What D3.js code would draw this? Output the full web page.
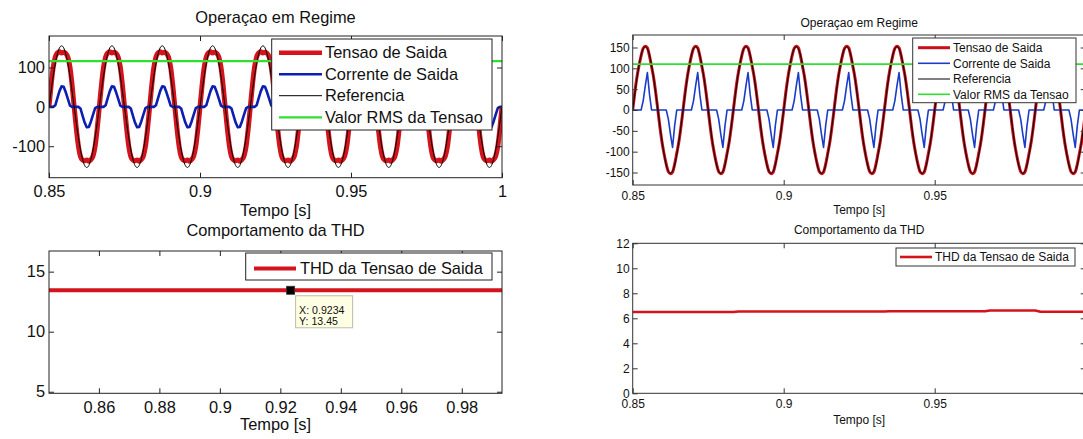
<!DOCTYPE html>
<html>
<head>
<meta charset="utf-8">
<script src="https://cdn.jsdelivr.net/npm/d3@7"></script>
<style>
  html, body { margin: 0; padding: 0; background: #fff; }
  svg { display: block; font-family: "Liberation Sans", Arial, Helvetica, sans-serif; }
</style>
</head>
<body>
<svg id="fig" width="1083" height="439"></svg>
<script>
// ---------------- data ----------------
// Waveforms are sampled every 15 electrical degrees of the 60 Hz period
// (1440 samples per second), from t = 0.85 s to t = 1.00 s.
const tStart = 0.85;
const samplesPerSecond = 1440;

// Left figure: output voltage, output current, reference, RMS voltage
const leftVoltage = [
  0, 55, 100, 127, 137, 140, 137, 139, 136, 126, 101, 56, 0, -54, -99, -126, -135, -137, -135, -138, -134, -125, -100, -55,
  0, 55, 100, 127, 137, 140, 137, 139, 136, 126, 101, 56, 0, -54, -99, -126, -135, -137, -135, -138, -134, -125, -100, -55,
  0, 55, 100, 127, 137, 140, 137, 139, 136, 126, 101, 56, 0, -54, -99, -126, -135, -137, -135, -138, -134, -125, -100, -55,
  0, 55, 100, 127, 137, 140, 137, 139, 136, 126, 101, 56, 0, -54, -99, -126, -135, -137, -135, -138, -134, -125, -100, -55,
  0, 55, 100, 127, 137, 140, 137, 139, 136, 126, 101, 56, 0, -54, -99, -126, -135, -137, -135, -138, -134, -125, -100, -55,
  0, 55, 100, 127, 137, 140, 137, 139, 136, 126, 101, 56, 0, -54, -99, -126, -135, -137, -135, -138, -134, -125, -100, -55,
  0, 55, 100, 127, 137, 140, 137, 139, 136, 126, 101, 56, 0, -54, -99, -126, -135, -137, -135, -138, -134, -125, -100, -55,
  0, 55, 100, 127, 137, 140, 137, 139, 136, 126, 101, 56, 0, -54, -99, -126, -135, -137, -135, -138, -134, -125, -100, -55,
  0, 55, 100, 127, 137, 140, 137, 139, 136, 126, 101, 56, 0, -54, -99, -126, -135, -137, -135, -138, -134, -125, -100, -55,
  0
];
const leftCurrent = [
  0, 0, 0, 4, 22, 40, 52, 51, 37, 20, 3, 0, 0, 0, 0, -4, -22, -40, -52, -51, -37, -20, -3, 0,
  0, 0, 0, 4, 22, 40, 52, 51, 37, 20, 3, 0, 0, 0, 0, -4, -22, -40, -52, -51, -37, -20, -3, 0,
  0, 0, 0, 4, 22, 40, 52, 51, 37, 20, 3, 0, 0, 0, 0, -4, -22, -40, -52, -51, -37, -20, -3, 0,
  0, 0, 0, 4, 22, 40, 52, 51, 37, 20, 3, 0, 0, 0, 0, -4, -22, -40, -52, -51, -37, -20, -3, 0,
  0, 0, 0, 4, 22, 40, 52, 51, 37, 20, 3, 0, 0, 0, 0, -4, -22, -40, -52, -51, -37, -20, -3, 0,
  0, 0, 0, 4, 22, 40, 52, 51, 37, 20, 3, 0, 0, 0, 0, -4, -22, -40, -52, -51, -37, -20, -3, 0,
  0, 0, 0, 4, 22, 40, 52, 51, 37, 20, 3, 0, 0, 0, 0, -4, -22, -40, -52, -51, -37, -20, -3, 0,
  0, 0, 0, 4, 22, 40, 52, 51, 37, 20, 3, 0, 0, 0, 0, -4, -22, -40, -52, -51, -37, -20, -3, 0,
  0, 0, 0, 4, 22, 40, 52, 51, 37, 20, 3, 0, 0, 0, 0, -4, -22, -40, -52, -51, -37, -20, -3, 0,
  0
];
const leftReference = [
  0, 40, 78, 110, 134, 150, 155, 150, 134, 110, 78, 40, 0, -40, -77, -109, -133, -149, -154, -149, -133, -109, -77, -40,
  0, 40, 78, 110, 134, 150, 155, 150, 134, 110, 78, 40, 0, -40, -77, -109, -133, -149, -154, -149, -133, -109, -77, -40,
  0, 40, 78, 110, 134, 150, 155, 150, 134, 110, 78, 40, 0, -40, -77, -109, -133, -149, -154, -149, -133, -109, -77, -40,
  0, 40, 78, 110, 134, 150, 155, 150, 134, 110, 78, 40, 0, -40, -77, -109, -133, -149, -154, -149, -133, -109, -77, -40,
  0, 40, 78, 110, 134, 150, 155, 150, 134, 110, 78, 40, 0, -40, -77, -109, -133, -149, -154, -149, -133, -109, -77, -40,
  0, 40, 78, 110, 134, 150, 155, 150, 134, 110, 78, 40, 0, -40, -77, -109, -133, -149, -154, -149, -133, -109, -77, -40,
  0, 40, 78, 110, 134, 150, 155, 150, 134, 110, 78, 40, 0, -40, -77, -109, -133, -149, -154, -149, -133, -109, -77, -40,
  0, 40, 78, 110, 134, 150, 155, 150, 134, 110, 78, 40, 0, -40, -77, -109, -133, -149, -154, -149, -133, -109, -77, -40,
  0, 40, 78, 110, 134, 150, 155, 150, 134, 110, 78, 40, 0, -40, -77, -109, -133, -149, -154, -149, -133, -109, -77, -40,
  0
];
const leftRms = 116;

// Left figure, THD of the output voltage (%)
const leftThdTime = [0.8435, 0.9234, 0.9933];
const leftThdValue = [13.45, 13.45, 13.45];
const dataTipIndex = 1; // highlighted sample: X 0.9234, Y 13.45

// Right figure: output voltage, output current, reference, RMS voltage
const rightVoltage = [
  0, 42, 78, 106, 130, 148, 153, 149, 130, 104, 77, 41, 0, -42, -78, -106, -130, -148, -153, -149, -130, -104, -77, -41,
  0, 42, 78, 106, 130, 148, 153, 149, 130, 104, 77, 41, 0, -42, -78, -106, -130, -148, -153, -149, -130, -104, -77, -41,
  0, 42, 78, 106, 130, 148, 153, 149, 130, 104, 77, 41, 0, -42, -78, -106, -130, -148, -153, -149, -130, -104, -77, -41,
  0, 42, 78, 106, 130, 148, 153, 149, 130, 104, 77, 41, 0, -42, -78, -106, -130, -148, -153, -149, -130, -104, -77, -41,
  0, 42, 78, 106, 130, 148, 153, 149, 130, 104, 77, 41, 0, -42, -78, -106, -130, -148, -153, -149, -130, -104, -77, -41,
  0, 42, 78, 106, 130, 148, 153, 149, 130, 104, 77, 41, 0, -42, -78, -106, -130, -148, -153, -149, -130, -104, -77, -41,
  0, 42, 78, 106, 130, 148, 153, 149, 130, 104, 77, 41, 0, -42, -78, -106, -130, -148, -153, -149, -130, -104, -77, -41,
  0, 42, 78, 106, 130, 148, 153, 149, 130, 104, 77, 41, 0, -42, -78, -106, -130, -148, -153, -149, -130, -104, -77, -41,
  0, 42, 78, 106, 130, 148, 153, 149, 130, 104, 77, 41, 0, -42, -78, -106, -130, -148, -153, -149, -130, -104, -77, -41,
  0
];
const rightCurrent = [
  0, 0, 0, 0, 0, 22, 58, 90, 38, 0, 0, 0, 0, 0, 0, 0, 0, -22, -58, -90, -38, 0, 0, 0,
  0, 0, 0, 0, 0, 22, 58, 90, 38, 0, 0, 0, 0, 0, 0, 0, 0, -22, -58, -90, -38, 0, 0, 0,
  0, 0, 0, 0, 0, 22, 58, 90, 38, 0, 0, 0, 0, 0, 0, 0, 0, -22, -58, -90, -38, 0, 0, 0,
  0, 0, 0, 0, 0, 22, 58, 90, 38, 0, 0, 0, 0, 0, 0, 0, 0, -22, -58, -90, -38, 0, 0, 0,
  0, 0, 0, 0, 0, 22, 58, 90, 38, 0, 0, 0, 0, 0, 0, 0, 0, -22, -58, -90, -38, 0, 0, 0,
  0, 0, 0, 0, 0, 22, 58, 90, 38, 0, 0, 0, 0, 0, 0, 0, 0, -22, -58, -90, -38, 0, 0, 0,
  0, 0, 0, 0, 0, 22, 58, 90, 38, 0, 0, 0, 0, 0, 0, 0, 0, -22, -58, -90, -38, 0, 0, 0,
  0, 0, 0, 0, 0, 22, 58, 90, 38, 0, 0, 0, 0, 0, 0, 0, 0, -22, -58, -90, -38, 0, 0, 0,
  0, 0, 0, 0, 0, 22, 58, 90, 38, 0, 0, 0, 0, 0, 0, 0, 0, -22, -58, -90, -38, 0, 0, 0,
  0
];
const rightReference = [
  0, 39, 76, 107, 132, 147, 152, 147, 132, 107, 76, 39, 0, -39, -76, -107, -132, -147, -152, -147, -132, -107, -76, -39,
  0, 39, 76, 107, 132, 147, 152, 147, 132, 107, 76, 39, 0, -39, -76, -107, -132, -147, -152, -147, -132, -107, -76, -39,
  0, 39, 76, 107, 132, 147, 152, 147, 132, 107, 76, 39, 0, -39, -76, -107, -132, -147, -152, -147, -132, -107, -76, -39,
  0, 39, 76, 107, 132, 147, 152, 147, 132, 107, 76, 39, 0, -39, -76, -107, -132, -147, -152, -147, -132, -107, -76, -39,
  0, 39, 76, 107, 132, 147, 152, 147, 132, 107, 76, 39, 0, -39, -76, -107, -132, -147, -152, -147, -132, -107, -76, -39,
  0, 39, 76, 107, 132, 147, 152, 147, 132, 107, 76, 39, 0, -39, -76, -107, -132, -147, -152, -147, -132, -107, -76, -39,
  0, 39, 76, 107, 132, 147, 152, 147, 132, 107, 76, 39, 0, -39, -76, -107, -132, -147, -152, -147, -132, -107, -76, -39,
  0, 39, 76, 107, 132, 147, 152, 147, 132, 107, 76, 39, 0, -39, -76, -107, -132, -147, -152, -147, -132, -107, -76, -39,
  0, 39, 76, 107, 132, 147, 152, 147, 132, 107, 76, 39, 0, -39, -76, -107, -132, -147, -152, -147, -132, -107, -76, -39,
  0
];
const rightRms = 110;

// Right figure, THD of the output voltage (%)
const rightThdTime = [0.85, 0.8833, 0.885, 0.9333, 0.935, 0.9667, 0.9683, 0.9833, 0.985, 1.0];
const rightThdValue = [6.5, 6.5, 6.54, 6.54, 6.57, 6.57, 6.63, 6.63, 6.52, 6.52];

// Axis ticks
const waveTimeTicks = [0.85, 0.9, 0.95, 1];
const leftWaveYTicks = [-100, 0, 100];
const rightWaveYTicks = [-150, -100, -50, 0, 50, 100, 150];
const leftThdTimeTicks = [0.86, 0.88, 0.9, 0.92, 0.94, 0.96, 0.98];
const leftThdYTicks = [5, 10, 15];
const rightThdYTicks = [0, 2, 4, 6, 8, 10, 12];

// Texts
const titleWave = "Operaçao em Regime";
const titleThd = "Comportamento da THD";
const xLabel = "Tempo [s]";
const waveLegend = ["Tensao de Saida", "Corrente de Saida", "Referencia", "Valor RMS da Tensao"];
const thdLegend = ["THD da Tensao de Saida"];

// ---------------- drawing ----------------
const svg = d3.select("#fig");
const defs = svg.append("defs");
const sampleTime = d3.range(leftVoltage.length).map(i => tStart + i / samplesPerSecond);

const C = {
  red: "#d3141c",
  redDark: "#c8101a",
  blue: "#0c1fb0",
  blueR: "#1a3cc8",
  black: "#000",
  green: "#2fe02f",
  text: "#111",
  axis: "#222"
};

let clipCount = 0;

function makeAxes(o) {
  const x = d3.scaleLinear().domain(o.xDomain).range([o.left, o.right]);
  const y = d3.scaleLinear().domain(o.yDomain).range([o.bottom, o.top]);
  const id = "clip" + (clipCount++);
  defs.append("clipPath").attr("id", id)
    .append("rect")
    .attr("x", o.left).attr("y", o.top)
    .attr("width", o.right - o.left).attr("height", o.bottom - o.top);
  const plot = svg.append("g").attr("clip-path", `url(#${id})`);
  const axes = svg.append("g");
  const tl = 5;
  const fmt = d => String(d);
  axes.append("g").attr("transform", `translate(0,${o.bottom})`)
    .call(d3.axisBottom(x).tickValues(o.xTicks).tickFormat(fmt)
      .tickSizeInner(-tl).tickSizeOuter(0).tickPadding(o.padX));
  axes.append("g").attr("transform", `translate(0,${o.top})`)
    .call(d3.axisTop(x).tickValues(o.xTicks).tickFormat("")
      .tickSizeInner(-tl).tickSizeOuter(0));
  axes.append("g").attr("transform", `translate(${o.left},0)`)
    .call(d3.axisLeft(y).tickValues(o.yTicks).tickFormat(fmt)
      .tickSizeInner(-tl).tickSizeOuter(0).tickPadding(o.padY));
  axes.append("g").attr("transform", `translate(${o.right},0)`)
    .call(d3.axisRight(y).tickValues(o.yTicks).tickFormat("")
      .tickSizeInner(-tl).tickSizeOuter(0));
  axes.selectAll(".domain").remove();
  axes.selectAll("g").attr("font-family", null).attr("font-size", null);
  axes.selectAll("line").attr("stroke", o.stroke);
  axes.selectAll("text").attr("font-size", o.font + "px").attr("fill", C.text);
  axes.append("rect")
    .attr("x", o.left).attr("y", o.top)
    .attr("width", o.right - o.left).attr("height", o.bottom - o.top)
    .attr("fill", "none").attr("stroke", o.stroke).attr("stroke-width", 1);
  // title and x label
  svg.append("text").attr("x", (o.left + o.right) / 2).attr("y", o.titleY)
    .attr("text-anchor", "middle").attr("font-size", o.font + "px").attr("fill", C.text)
    .text(o.title);
  svg.append("text").attr("x", (o.left + o.right) / 2).attr("y", o.xLabelY)
    .attr("text-anchor", "middle").attr("font-size", o.font + "px").attr("fill", C.text)
    .text(o.xLabel);
  return { x, y, plot };
}

function drawSeries(ax, times, values, color, width, curve) {
  const pts = times.map((t, i) => [t, values[i]]);
  ax.plot.append("path")
    .datum(pts)
    .attr("fill", "none")
    .attr("stroke", color)
    .attr("stroke-width", width)
    .attr("stroke-linejoin", "round")
    .attr("d", d3.line().x(d => ax.x(d[0])).y(d => ax.y(d[1])).curve(curve || d3.curveLinear));
}

function drawLegend(o) {
  const g = svg.append("g");
  g.append("rect").attr("x", o.x0).attr("y", o.y0)
    .attr("width", o.x1 - o.x0).attr("height", o.y1 - o.y0)
    .attr("fill", "#fff").attr("stroke", o.stroke).attr("stroke-width", 1);
  o.items.forEach((it, i) => {
    const yy = o.rows[i];
    g.append("line").attr("x1", o.lineX0).attr("x2", o.lineX1)
      .attr("y1", yy).attr("y2", yy)
      .attr("stroke", it.color).attr("stroke-width", it.width);
    g.append("text").attr("x", o.textX).attr("y", yy).attr("dy", "0.35em")
      .attr("font-size", o.font + "px").attr("fill", C.text).text(it.label);
  });
}

// ---- left figure, waveforms ----
const axLW = makeAxes({
  left: 49, right: 502, top: 36, bottom: 177.7,
  xDomain: [0.85, 1.0], yDomain: [-180, 180],
  xTicks: waveTimeTicks, yTicks: leftWaveYTicks,
  font: 16.4, padX: 8, padY: 4, stroke: C.axis,
  title: titleWave, titleY: 22.5, xLabel: xLabel, xLabelY: 216
});
drawSeries(axLW, sampleTime, leftVoltage, C.red, 5, d3.curveMonotoneX);
drawSeries(axLW, sampleTime, leftCurrent, C.blue, 2.6);
drawSeries(axLW, sampleTime, leftReference, C.black, 1, d3.curveMonotoneX);
drawSeries(axLW, [tStart, sampleTime[sampleTime.length - 1]], [leftRms, leftRms], C.green, 2.2);
drawLegend({
  x0: 271.7, x1: 492, y0: 39, y1: 130, stroke: C.axis, font: 16.4,
  lineX0: 279, lineX1: 322, textX: 325, rows: [52.7, 74.3, 95.7, 117.3],
  items: [
    { label: waveLegend[0], color: C.red, width: 4.5 },
    { label: waveLegend[1], color: C.blue, width: 2.6 },
    { label: waveLegend[2], color: C.black, width: 1 },
    { label: waveLegend[3], color: C.green, width: 2.2 }
  ]
});

// ---- left figure, THD ----
const axLT = makeAxes({
  left: 49, right: 502, top: 251, bottom: 393.3,
  xDomain: [0.8435, 0.9933], yDomain: [4.87, 16.72],
  xTicks: leftThdTimeTicks, yTicks: leftThdYTicks,
  font: 16.4, padX: 8, padY: 4, stroke: C.axis,
  title: titleThd, titleY: 236, xLabel: xLabel, xLabelY: 430
});
drawSeries(axLT, leftThdTime, leftThdValue, C.red, 4.2);
drawLegend({
  x0: 245.7, x1: 492, y0: 253, y1: 280, stroke: C.axis, font: 16.4,
  lineX0: 254, lineX1: 296, textX: 300, rows: [268.5],
  items: [{ label: thdLegend[0], color: C.red, width: 4.2 }]
});
// data tip on the THD curve
{
  const tx = axLT.x(leftThdTime[dataTipIndex]);
  const ty = axLT.y(leftThdValue[dataTipIndex]);
  svg.append("rect").attr("x", tx - 4).attr("y", ty - 4).attr("width", 8).attr("height", 8)
    .attr("fill", "#000").attr("stroke", "#333").attr("stroke-width", 0.8);
  const bx = tx + 5, by = ty + 5.5;
  svg.append("rect").attr("x", bx).attr("y", by).attr("width", 57).attr("height", 32)
    .attr("fill", "#ffffe4").attr("stroke", "#bcbcaa").attr("stroke-width", 1);
  svg.append("text").attr("x", bx + 3.5).attr("y", by + 18).attr("font-size", "10.6px").attr("fill", C.text)
    .text("X: " + leftThdTime[dataTipIndex]);
  svg.append("text").attr("x", bx + 3.5).attr("y", by + 29).attr("font-size", "10.6px").attr("fill", C.text)
    .text("Y: " + leftThdValue[dataTipIndex]);
}

// ---- right figure, waveforms ----
const axRW = makeAxes({
  left: 632.7, right: 1085.7, top: 35, bottom: 185,
  xDomain: [0.85, 1.0], yDomain: [-180, 180],
  xTicks: waveTimeTicks, yTicks: rightWaveYTicks,
  font: 12, padX: 6.5, padY: 3, stroke: "#333",
  title: titleWave, titleY: 27, xLabel: xLabel, xLabelY: 214
});
drawSeries(axRW, sampleTime, rightVoltage, C.redDark, 3, d3.curveMonotoneX);
drawSeries(axRW, sampleTime, rightCurrent, C.blueR, 1.6);
drawSeries(axRW, sampleTime, rightReference, C.black, 1, d3.curveMonotoneX);
drawSeries(axRW, [tStart, sampleTime[sampleTime.length - 1]], [rightRms, rightRms], C.green, 1.6);
drawLegend({
  x0: 912.7, x1: 1076, y0: 38, y1: 102.7, stroke: "#333", font: 12,
  lineX0: 918, lineX1: 950, textX: 953, rows: [47.7, 63.3, 79, 94.3],
  items: [
    { label: waveLegend[0], color: C.redDark, width: 3 },
    { label: waveLegend[1], color: C.blueR, width: 1.6 },
    { label: waveLegend[2], color: C.black, width: 1 },
    { label: waveLegend[3], color: C.green, width: 1.6 }
  ]
});

// ---- right figure, THD ----
const axRT = makeAxes({
  left: 632.7, right: 1085.7, top: 243.3, bottom: 393.3,
  xDomain: [0.85, 1.0], yDomain: [0, 12],
  xTicks: waveTimeTicks, yTicks: rightThdYTicks,
  font: 12, padX: 6.5, padY: 3, stroke: "#333",
  title: titleThd, titleY: 234, xLabel: xLabel, xLabelY: 424
});
drawSeries(axRT, rightThdTime, rightThdValue, C.red, 2.6);
drawLegend({
  x0: 896, x1: 1075, y0: 248, y1: 266, stroke: "#333", font: 12,
  lineX0: 900, lineX1: 932, textX: 935, rows: [257],
  items: [{ label: thdLegend[0], color: C.red, width: 2.6 }]
});
</script>
</body>
</html>
